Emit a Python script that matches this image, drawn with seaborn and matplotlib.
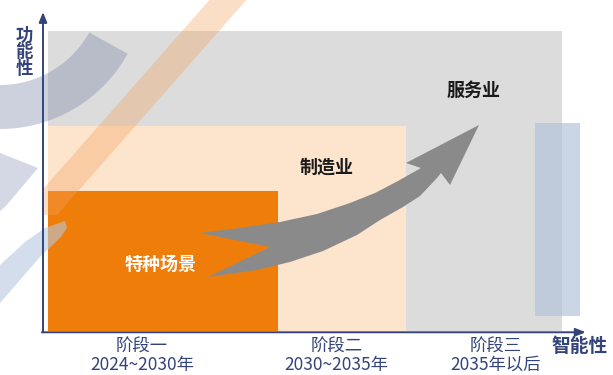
import numpy as np
import pandas as pd
import matplotlib
matplotlib.use('Agg')
import matplotlib.pyplot as plt
import matplotlib.transforms as mtransforms
from matplotlib.patches import Polygon
import seaborn as sns

# Data: stages on the x axis, sectors as nested blocks
stages = ['阶段一\n2024~2030年', '阶段二\n2030~2035年', '阶段三\n2035年以后']
sectors = ['特种场景', '制造业', '服务业']
sector_reach = [43.5, 67.2, 96.1]    # how far along 智能性 each sector extends
sector_level = [44.0, 64.2, 94.0]    # how high along 功能性 each sector reaches
sector_start = 0.9

# Layout / style
stage_pos = [18.3, 54.3, 83.9]
label_pos = [(21.7, 21.0), (52.6, 51.4), (79.8, 75.5)]
sector_colors = ['#ef7d0a', '#fde4cc', '#dcdcdc']
label_colors = ['white', '#1a1a1a', '#1a1a1a']
navy = '#34447a'

sns.set_theme(style='white')
plt.rcParams['font.family'] = ['Noto Sans CJK SC', 'DejaVu Sans']

W, H = 613, 375
fig = plt.figure(figsize=(W / 100, H / 100), dpi=100)
ax = fig.add_axes([43 / W, 44 / H, 540 / W, 319 / H])
ax.set_xlim(0, 100)
ax.set_ylim(0, 100)
ax.patch.set_alpha(0)

# pixel-based transform for the decorative shapes
pxT = mtransforms.Affine2D().scale(1 / W, -1 / H).translate(0, 1) + fig.transFigure

df = pd.DataFrame({'sector': sectors, 'reach': sector_reach, 'level': sector_level,
                   'color': sector_colors})
# draw largest first so the smaller blocks sit on top
for _, r in df.iloc[::-1].iterrows():
    ax.bar(sector_start, r['level'], width=r['reach'] - sector_start, align='edge',
           color=r['color'], edgecolor='none', zorder=1)

# decorative background shapes
def add_px(pts, color, alpha, z):
    p = Polygon(pts, closed=True, transform=pxT, facecolor=color, edgecolor='none',
                alpha=alpha, zorder=z, clip_on=False)
    ax.add_patch(p)

# swoosh arc
th = np.radians(np.linspace(29, 100, 40))
cx, cy = 0, -17
inner = np.c_[cx + 102 * np.cos(th), cy + 102 * np.sin(th)]
outer = np.c_[cx + 146 * np.cos(th[::-1]), cy + 146 * np.sin(th[::-1])]
add_px(np.vstack([inner, outer]), '#8890b0', 0.42, 2)
add_px([(-5, 151), (38, 168), (5, 207), (-5, 215)], '#9aa2c2', 0.42, 2)
add_px([(65, 221), (45, 228), (25, 242), (0, 265), (-5, 272), (-5, 306),
        (0, 303), (20, 280), (40, 257), (60, 238), (67, 228)], '#b7c7de', 0.6, 2)
# orange diagonal band
add_px([(212, -3), (249, -3), (57, 215), (44, 215), (44, 188)], '#f5a25d', 0.35, 2)

# blue-grey column on the right
ax.bar(91.1, 60.5, bottom=4.7, width=8.3, align='edge', color='#b4c4da',
       alpha=0.7, edgecolor='none', zorder=2)

# big curved arrow
arrow = [(200, 233), (240, 228), (280, 222), (317, 214), (350, 203), (375, 193),
         (398, 181), (421, 168), (406, 163), (479, 125), (450, 185), (441, 173),
         (437, 178), (420, 196), (403, 207), (380, 220), (357, 235), (323, 251),
         (290, 262), (257, 270), (208, 277), (270, 247)]
add_px(arrow, '#8a8a8a', 1.0, 3)

# sector labels
for name, (x, y), c in zip(sectors, label_pos, label_colors):
    ax.text(x, y, name, ha='center', va='center', fontsize=13, weight='bold',
            color=c, zorder=5)

# axes as arrows
for spine in ax.spines.values():
    spine.set_visible(False)
ax.set_yticks([])
ax.set_xticks(stage_pos, stages)
ax.tick_params(axis='x', length=0, pad=5, labelsize=12.5, labelcolor=navy)
for t in ax.get_xticklabels():
    t.set_linespacing(1.0)

arrow_kw = dict(arrowstyle='-|>,head_length=0.5,head_width=0.2', color=navy,
                lw=1.4, shrinkA=0, shrinkB=0)
ax.annotate('', xy=(0, 1.0), xytext=(0, -0.004), xycoords='axes fraction',
            arrowprops=arrow_kw, annotation_clip=False, zorder=6)
ax.annotate('', xy=(1.005, -0.004), xytext=(-0.002, -0.004), xycoords='axes fraction',
            arrowprops=arrow_kw, annotation_clip=False, zorder=6)

fig.text(24 / W, 1 - 52 / H, '功\n能\n性', ha='center', va='center', fontsize=12.5,
         weight='bold', color=navy, linespacing=0.9)
fig.text(580 / W, 1 - 346 / H, '智能性', ha='center', va='center', fontsize=13.5,
         weight='bold', color=navy)

fig.savefig('out.png', dpi=100)
